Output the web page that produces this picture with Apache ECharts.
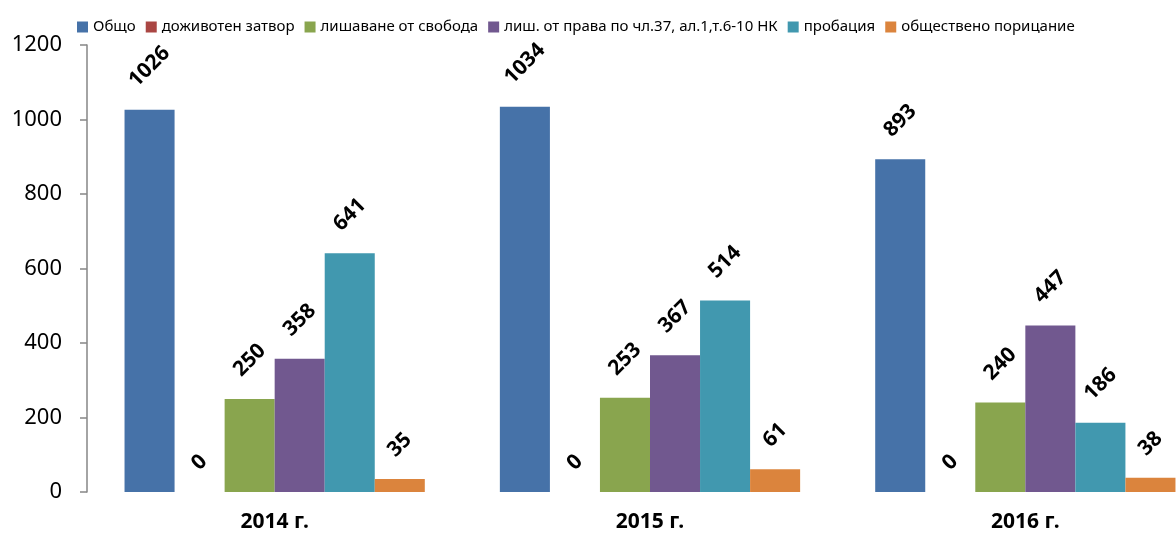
<!DOCTYPE html>
<html>
<head>
<meta charset="utf-8">
<script src="https://cdn.jsdelivr.net/npm/echarts@6/dist/echarts.min.js"></script>
<style>
  html, body { margin: 0; padding: 0; background: #fff; overflow: hidden; }
  #chart { width: 1176px; height: 536px; }
</style>
</head>
<body>
<div id="chart"></div>
<script>
// години
const years = ["2014 г.", "2015 г.", "2016 г."];
// серии
const seriesNames = [
  "Общо",
  "доживотен затвор",
  "лишаване от свобода",
  "лиш. от права по чл.37, ал.1,т.6-10 НК",
  "пробация",
  "обществено порицание"
];
const total = [1026, 1034, 893];
const lifeImprisonment = [0, 0, 0];
const imprisonment = [250, 253, 240];
const rightsDeprivation = [358, 367, 447];
const probation = [641, 514, 186];
const publicCensure = [35, 61, 38];
const yTicks = [0, 200, 400, 600, 800, 1000, 1200];

const colors = ["#4672A8", "#AA4643", "#89A54E", "#71588F", "#4198AF", "#DB843D"];
const values = [total, lifeImprisonment, imprisonment, rightsDeprivation, probation, publicCensure];
const font = "'Noto Sans', 'Open Sans', sans-serif";

let myChart = echarts.init(document.getElementById("chart"));

let series = seriesNames.map(function (name, i) {
  return {
    name: name,
    type: "bar",
    barGap: "0%",
    barCategoryGap: "20%",
    itemStyle: { color: colors[i] },
    data: values[i].map(function (v) {
      // етикетът се отдалечава според дължината на числото
      return { value: v, label: { distance: 25 + 4.5 * String(v).length } };
    }),
    label: {
      show: true,
      position: "top",
      rotate: 45,
      align: "center",
      verticalAlign: "middle",
      fontFamily: font,
      fontWeight: "bold",
      fontSize: 21,
      color: "#000"
    }
  };
});

let option = {
  animation: false,
  color: colors,
  legend: {
    data: seriesNames,
    left: 72,
    top: 14,
    icon: "rect",
    itemWidth: 11,
    itemHeight: 11,
    itemGap: 10,
    textStyle: { fontFamily: font, fontSize: 15, color: "#000", lineHeight: 16 }
  },
  // графиката излиза извън десния край (отрязана е като в оригинала)
  grid: { left: 87, top: 45, width: 1126, height: 447, containLabel: false, outerBoundsMode: "none" },
  xAxis: {
    type: "category",
    data: years,
    axisLine: { show: false },
    axisTick: { show: false },
    axisLabel: {
      margin: 20,
      fontFamily: font,
      fontWeight: "bold",
      fontSize: 21,
      color: "#000"
    }
  },
  yAxis: {
    type: "value",
    min: yTicks[0],
    max: yTicks[yTicks.length - 1],
    interval: 200,
    splitLine: { show: false },
    axisLine: { show: true, lineStyle: { color: "#868686", width: 1.5 } },
    axisTick: { show: true, length: 7, lineStyle: { color: "#868686", width: 1.5 } },
    axisLabel: {
      margin: 25,
      fontFamily: font,
      fontSize: 22,
      color: "#000",
      formatter: function (v) { return String(v); }
    }
  },
  series: series
};

option && myChart.setOption(option);
</script>
</body>
</html>
